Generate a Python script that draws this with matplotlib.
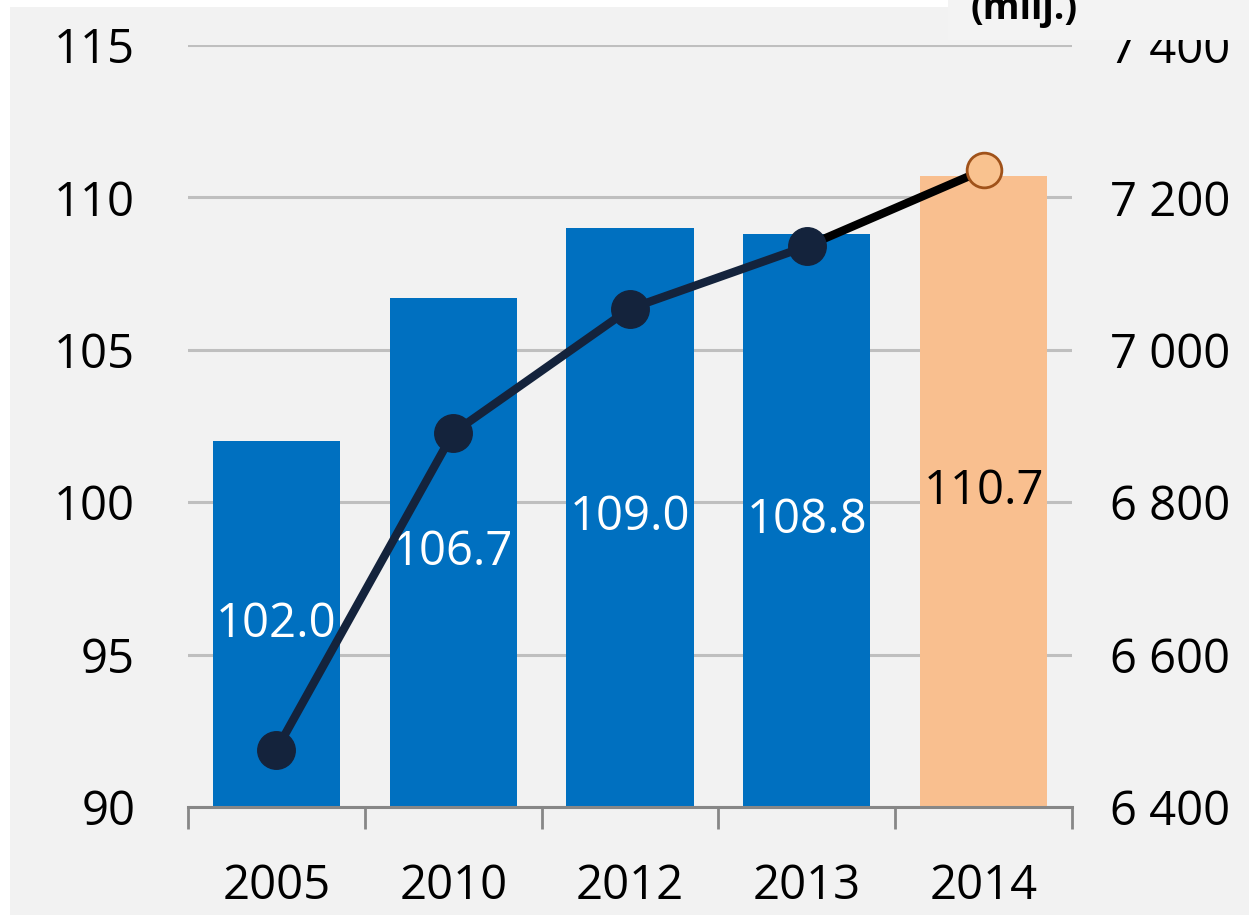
import matplotlib
matplotlib.use("Agg")
import matplotlib.pyplot as plt
from matplotlib.patches import Rectangle
from matplotlib.ticker import FuncFormatter
import numpy as np

plt.rcParams['font.family'] = ['Open Sans', 'DejaVu Sans']

years = ["2005", "2010", "2012", "2013", "2014"]
index_values = [102.0, 106.7, 109.0, 108.8, 110.7]
population = [6475, 6891, 7054, 7136, 7236]
bar_colors = ["#0070c0", "#0070c0", "#0070c0", "#0070c0", "#f9bf8f"]
label_colors = ["white", "white", "white", "white", "black"]

bg = "#f2f2f2"
fig = plt.figure(figsize=(12.49, 9.15), dpi=100, facecolor="white")
fig.patches.append(Rectangle((10 / 1249, 0), 1, 1 - 7 / 915, transform=fig.transFigure,
                             facecolor=bg, edgecolor="none", zorder=-10))

ax = fig.add_axes([188 / 1249, 1 - 807 / 915, 884 / 1249, 762 / 915])
ax.patch.set_visible(False)

x = np.arange(len(years))
bars = ax.bar(x, index_values, width=0.72, color=bar_colors, zorder=2)
for rect, val, col in zip(bars, index_values, label_colors):
    ax.text(rect.get_x() + rect.get_width() / 2, 90 + (val - 90) / 2, f"{val:.1f}",
            ha="center", va="center", color=col, fontsize=34, zorder=5)

ax.set_xlim(-0.5, len(years) - 0.5)
ax.set_ylim(90, 115)
ax.set_yticks([90, 95, 100, 105, 110, 115])
ax.yaxis.grid(True, color="#bfbfbf", linewidth=2.2, zorder=0)
ax.set_axisbelow(True)
ax.tick_params(axis="y", length=0, pad=38, labelsize=34)
ax.set_xticks(x)
ax.set_xticklabels(years)
ax.set_xticks(np.arange(-0.5, len(years)), minor=True)
ax.tick_params(axis="x", which="major", length=0, pad=40, labelsize=34)
ax.tick_params(axis="x", which="minor", length=16, width=2, color="#878787")
for s in ["top", "left", "right"]:
    ax.spines[s].set_visible(False)
ax.spines["bottom"].set_color("#878787")
ax.spines["bottom"].set_linewidth(2.2)

ax2 = ax.twinx()
ax2.set_ylim(6400, 7400)
ax2.set_yticks(range(6400, 7401, 200))
ax2.yaxis.set_major_formatter(FuncFormatter(lambda v, p: f"{int(v):,}".replace(",", " ")))
ax2.tick_params(axis="y", length=0, pad=27, labelsize=34)
for s in ax2.spines.values():
    s.set_visible(False)

ax2.plot(x[:4], population[:4], color="#14233c", linewidth=6, zorder=3)
ax2.plot(x[3:], population[3:], color="black", linewidth=6, zorder=3)
ax2.plot(x[:4], population[:4], "o", color="#14233c", markersize=27, zorder=4)
ax2.plot(x[4:], population[4:], "o", markerfacecolor="#f9c28f", markeredgecolor="#a0521a",
         markeredgewidth=2, markersize=25, zorder=4)

# box holding the unit label, covering the top of the right axis label
fig.patches.append(Rectangle((948 / 1249, 1 - 40 / 915), 1, 40 / 915, transform=fig.transFigure,
                             facecolor="#f3f3f3", edgecolor="none", zorder=5))
fig.text(1024 / 1249, 1 - 9 / 915, "(milj.)", ha="center", va="center", fontsize=27,
         fontweight="bold", zorder=6)

fig.savefig("out.png", dpi=100, facecolor=fig.get_facecolor())
